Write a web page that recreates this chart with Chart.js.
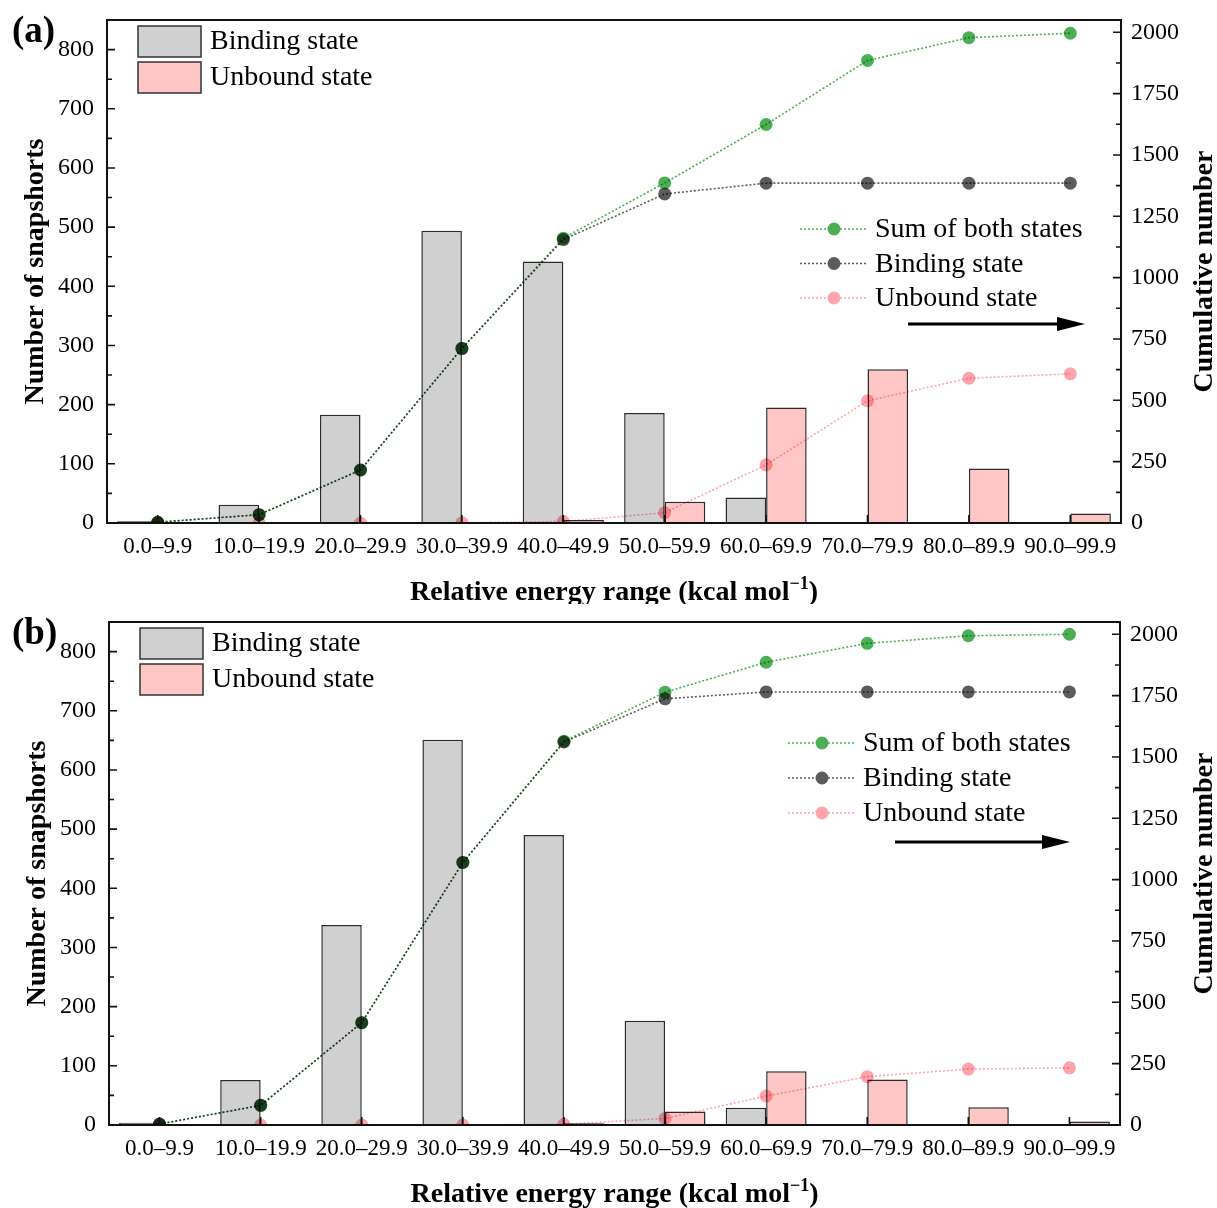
<!DOCTYPE html>
<html><head><meta charset="utf-8">
<script src="https://cdn.jsdelivr.net/npm/chart.js@4/dist/chart.umd.min.js"></script>
<style>
html,body{margin:0;padding:0;background:#fff;}
.wrap{position:relative;width:1217px;height:604px;}
canvas{display:block;}
</style></head><body>
<div class="wrap"><canvas id="ca" width="1217" height="604"></canvas></div>
<div class="wrap"><canvas id="cb" width="1217" height="604"></canvas></div>
<script>
// ---------- data ----------
const categories = ['0.0–9.9','10.0–19.9','20.0–29.9','30.0–39.9','40.0–49.9','50.0–59.9','60.0–69.9','70.0–79.9','80.0–89.9','90.0–99.9'];
const countTicks = [0,100,200,300,400,500,600,700,800];
const cumulativeTicks = [0,250,500,750,1000,1250,1500,1750,2000];

// Panel (a)
const bindingA     = [3, 31, 183, 494, 442, 186, 43, 0, 0, 0];
const unboundA     = [0, 0, 0, 1, 5, 36, 195, 260, 92, 16];
const cumSumA      = [3, 34, 216, 712, 1161, 1386, 1624, 1885, 1978, 1996];
const cumBindingA  = [3, 34, 216, 711, 1155, 1341, 1385, 1385, 1385, 1385];
const cumUnboundA  = [0, 0, 0, 1, 6, 42, 237, 498, 590, 608];

// Panel (b)
const bindingB     = [4, 76, 338, 651, 490, 176, 29, 0, 0, 0];
const unboundB     = [0, 0, 0, 0, 3, 23, 91, 77, 30, 6];
const cumSumB      = [4, 80, 417, 1070, 1564, 1764, 1886, 1963, 1994, 2000];
const cumBindingB  = [4, 80, 417, 1070, 1561, 1737, 1765, 1765, 1765, 1765];
const cumUnboundB  = [0, 0, 0, 0, 3, 27, 118, 197, 228, 233];

const barLegend  = ['Binding state', 'Unbound state'];
const lineLegend = ['Sum of both states', 'Binding state', 'Unbound state'];
const xTitleMain = 'Relative energy range (kcal mol';
const xTitleSup  = '−1';
const yTitle  = 'Number of snapshorts';
const y2Title = 'Cumulative number';

// ---------- style ----------
const FONT = '"Liberation Serif","Times New Roman",serif';
const COL = {gray:'#d0d0d0', pinkFill:'#ffc6c6', edge:'#2b2b2b', green:'#4caf55', dark:'#5c5c5c', pink:'#ffa3ad', ink:'#000'};
Chart.defaults.font.family = FONT;
Chart.defaults.color = COL.ink;

function lineDs(label, data, color) {
  return {type:'line', label, data, yAxisID:'y2', order:1,
    borderColor:color, backgroundColor:color, borderWidth:1.6, borderDash:[2,2],
    pointRadius:6.5, pointHoverRadius:6.5, pointBorderWidth:0, pointBackgroundColor:color, tension:0};
}
function barDs(label, data, fill) {
  return {type:'bar', label, data, yAxisID:'y', order:2, backgroundColor:fill,
    borderColor:COL.edge, borderWidth:1.5, categoryPercentage:0.8, barPercentage:1.0};
}

function decor(P) {
  return {
    id: 'decor' + P.name,
    beforeDatasetDraw(chart, args) {
      if (chart.data.datasets[args.index].type === 'line') {
        chart.ctx.save(); chart.ctx.globalCompositeOperation = 'multiply';
      }
    },
    afterDatasetDraw(chart, args) {
      if (chart.data.datasets[args.index].type === 'line') chart.ctx.restore();
    },
    afterDraw(chart) {
      const ctx = chart.ctx, a = chart.chartArea;
      const ys = chart.scales.y, y2s = chart.scales.y2, xs = chart.scales.x;
      ctx.save();
      ctx.strokeStyle = '#111'; ctx.lineWidth = 1.6;
      ctx.beginPath();
      countTicks.forEach(v => {
        const p = ys.getPixelForValue(v); ctx.moveTo(a.left, p); ctx.lineTo(a.left + 8, p);
        if (v + 50 < ys.max - 5) { const m = ys.getPixelForValue(v + 50); ctx.moveTo(a.left, m); ctx.lineTo(a.left + 5, m); }
      });
      cumulativeTicks.forEach(v => {
        const p = y2s.getPixelForValue(v); ctx.moveTo(a.right, p); ctx.lineTo(a.right - 8, p);
        if (v + 125 < y2s.max - 20) { const m = y2s.getPixelForValue(v + 125); ctx.moveTo(a.right, m); ctx.lineTo(a.right - 5, m); }
      });
      categories.forEach((c, i) => {
        const p = xs.getPixelForValue(i); ctx.moveTo(p, a.bottom); ctx.lineTo(p, a.bottom - 8);
      });
      ctx.stroke();
      ctx.lineWidth = 2; ctx.strokeStyle = '#111';
      ctx.strokeRect(a.left, a.top, a.right - a.left, a.bottom - a.top);

      // bar legend (top-left)
      ctx.font = '28px ' + FONT; ctx.textBaseline = 'middle'; ctx.textAlign = 'left'; ctx.fillStyle = COL.ink;
      const fills = [COL.gray, COL.pinkFill];
      barLegend.forEach((t, i) => {
        const bx = a.left + 31, by = a.top + 6 + i * 36;
        ctx.fillStyle = fills[i]; ctx.fillRect(bx, by, 63, 31);
        ctx.lineWidth = 1.5; ctx.strokeStyle = '#333'; ctx.strokeRect(bx, by, 63, 31);
        ctx.fillStyle = COL.ink; ctx.fillText(t, bx + 72, by + 16);
      });

      // line legend (right)
      const lc = [COL.green, COL.dark, COL.pink];
      lineLegend.forEach((t, i) => {
        const y = P.legY + i * P.legGap;
        ctx.save();
        ctx.strokeStyle = lc[i]; ctx.lineWidth = 1.6; ctx.setLineDash([2, 2]);
        ctx.beginPath(); ctx.moveTo(P.legX, y); ctx.lineTo(P.legX + 68, y); ctx.stroke();
        ctx.restore();
        ctx.fillStyle = lc[i]; ctx.beginPath(); ctx.arc(P.legX + 34, y, 6.5, 0, Math.PI * 2); ctx.fill();
        ctx.fillStyle = COL.ink; ctx.fillText(t, P.legX + 75, y + 1);
      });
      // arrow
      ctx.strokeStyle = '#000'; ctx.lineWidth = 3;
      ctx.beginPath(); ctx.moveTo(P.ax1, P.ay); ctx.lineTo(P.ax2 - 20, P.ay); ctx.stroke();
      ctx.fillStyle = '#000'; ctx.beginPath();
      ctx.moveTo(P.ax2, P.ay); ctx.lineTo(P.ax2 - 28, P.ay - 7); ctx.lineTo(P.ax2 - 28, P.ay + 7); ctx.closePath(); ctx.fill();

      // axis titles
      ctx.fillStyle = COL.ink; ctx.font = 'bold 28px ' + FONT; ctx.textAlign = 'center'; ctx.textBaseline = 'middle';
      const cy = (a.top + a.bottom) / 2;
      ctx.save(); ctx.translate(P.yTitleX, cy); ctx.rotate(-Math.PI / 2); ctx.fillText(yTitle, 0, 0); ctx.restore();
      ctx.save(); ctx.translate(1205, cy); ctx.rotate(-Math.PI / 2); ctx.fillText(y2Title, 0, 0); ctx.restore();
      // x title with superscript
      ctx.textBaseline = 'alphabetic'; ctx.textAlign = 'left';
      ctx.font = 'bold 28px ' + FONT;
      const w1 = ctx.measureText(xTitleMain).width;
      ctx.font = 'bold 18px ' + FONT;
      const w2 = ctx.measureText(xTitleSup).width;
      ctx.font = 'bold 28px ' + FONT;
      const w3 = ctx.measureText(')').width;
      const total = w1 + w2 + w3;
      const x0 = (a.left + a.right) / 2 - total / 2, yb = a.bottom + 77;
      ctx.fillText(xTitleMain, x0, yb);
      ctx.font = 'bold 18px ' + FONT; ctx.fillText(xTitleSup, x0 + w1, yb - 11);
      ctx.font = 'bold 28px ' + FONT; ctx.fillText(')', x0 + w1 + w2, yb);
      // panel label
      ctx.font = 'bold 37px ' + FONT; ctx.fillText(P.label, 12, P.labelY);
      ctx.restore();
    }
  };
}

function build(canvasId, P, binding, unbound, cumSum, cumBinding, cumUnbound) {
  return new Chart(document.getElementById(canvasId), {
    data: {
      labels: categories,
      datasets: [
        lineDs(lineLegend[0], cumSum, COL.green),
        lineDs(lineLegend[1], cumBinding, COL.dark),
        lineDs(lineLegend[2], cumUnbound, COL.pink),
        barDs(barLegend[0], binding, COL.gray),
        barDs(barLegend[1], unbound, COL.pinkFill)
      ]
    },
    options: {
      responsive: false, animation: false, devicePixelRatio: 1,
      layout: {padding: {top: P.T, left: 0, right: 0, bottom: 0}},
      plugins: {legend: {display: false}, tooltip: {enabled: false}},
      scales: {
        x: {type: 'category', offset: true,
            grid: {display: false, drawTicks: false}, border: {display: false},
            ticks: {font: {size: 23}, color: COL.ink, padding: 10, autoSkip: false, maxRotation: 0, minRotation: 0},
            afterFit: s => { s.height = P.B; }},
        y: {position: 'left', min: 0, max: 850,
            grid: {display: false, drawTicks: false}, border: {display: false},
            ticks: {font: {size: 24, lineHeight: 0.4}, color: COL.ink, padding: 13, callback: v => String(v)},
            afterBuildTicks: s => { s.ticks = countTicks.map(v => ({value: v})); },
            afterFit: s => { s.width = P.L; }},
        y2: {position: 'right', min: 0, max: 2050,
            grid: {display: false, drawTicks: false}, border: {display: false},
            ticks: {font: {size: 24, lineHeight: 0.4}, color: COL.ink, padding: 10, callback: v => String(v)},
            afterBuildTicks: s => { s.ticks = cumulativeTicks.map(v => ({value: v})); },
            afterFit: s => { s.width = P.R; }}
      }
    },
    plugins: [decor(P)]
  });
}

build('ca', {name:'a', label:'(a)', labelY:42, T:20, B:81, L:107, R:96,
  legX:800, legY:229, legGap:34.5, ax1:908, ax2:1085, ay:324, yTitleX:36},
  bindingA, unboundA, cumSumA, cumBindingA, cumUnboundA);
build('cb', {name:'b', label:'(b)', labelY:40, T:18, B:83, L:109, R:97,
  legX:788, legY:139, legGap:35, ax1:895, ax2:1070, ay:238, yTitleX:38},
  bindingB, unboundB, cumSumB, cumBindingB, cumUnboundB);
</script>
</body></html>
